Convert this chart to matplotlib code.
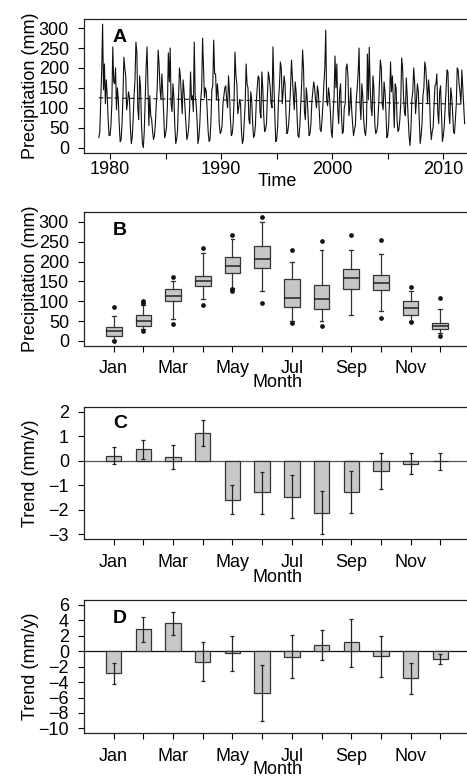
import numpy as np
import matplotlib
matplotlib.use('Agg')
from matplotlib import pyplot as plt

plt.rcParams['font.family'] = ['Liberation Sans', 'DejaVu Sans']
plt.rcParams['font.size'] = 13
plt.rcParams['axes.linewidth'] = 0.9
plt.rcParams['axes.edgecolor'] = '#222222'
plt.rcParams['xtick.major.size'] = 4.3
plt.rcParams['ytick.major.size'] = 4.3
plt.rcParams['xtick.major.width'] = 0.8
plt.rcParams['ytick.major.width'] = 0.8
plt.rcParams['ytick.major.pad'] = 6.5

# ---- panel A: monthly precipitation (mm), one row per year Jan..Dec
years = list(range(1979, 2012))
precip_rows = [
    [25, 40, 120, 190, 310, 145, 210, 110, 170, 130, 70, 30],    # 1979
    [30, 55, 110, 253, 165, 160, 200, 95, 150, 120, 55, 15],     # 1980
    [20, 60, 130, 227, 200, 180, 95, 115, 140, 125, 50, 10],     # 1981
    [25, 70, 130, 170, 265, 240, 100, 70, 180, 150, 60, 10],     # 1982
    [0, 40, 125, 200, 253, 150, 55, 130, 80, 70, 40, 20],        # 1983
    [30, 60, 110, 150, 245, 210, 150, 120, 185, 140, 80, 25],    # 1984
    [35, 50, 105, 238, 165, 250, 110, 90, 160, 125, 55, 10],     # 1985
    [20, 45, 120, 200, 180, 130, 85, 170, 140, 100, 60, 20],     # 1986
    [30, 50, 100, 190, 120, 130, 90, 265, 130, 110, 70, 10],     # 1987
    [25, 60, 120, 150, 275, 200, 125, 150, 140, 90, 40, 15],     # 1988
    [20, 65, 145, 155, 270, 185, 185, 120, 160, 130, 60, 35],    # 1989
    [40, 55, 110, 130, 150, 155, 120, 100, 180, 140, 75, 30],    # 1990
    [35, 60, 120, 240, 180, 160, 85, 100, 120, 110, 40, 10],     # 1991
    [20, 65, 110, 210, 160, 150, 70, 60, 140, 120, 65, 25],      # 1992
    [30, 55, 115, 150, 180, 175, 90, 75, 190, 150, 80, 40],      # 1993
    [45, 60, 130, 190, 175, 150, 110, 100, 253, 160, 80, 15],    # 1994
    [20, 50, 120, 155, 215, 200, 110, 140, 180, 160, 90, 35],    # 1995
    [40, 60, 100, 150, 220, 175, 130, 95, 165, 140, 80, 30],     # 1996
    [25, 55, 105, 160, 245, 200, 90, 70, 150, 125, 75, 30],      # 1997
    [35, 60, 115, 140, 165, 150, 120, 100, 155, 140, 95, 45],    # 1998
    [40, 70, 110, 160, 200, 295, 120, 105, 150, 130, 90, 40],    # 1999
    [25, 85, 130, 230, 150, 210, 95, 60, 140, 160, 80, 35],      # 2000
    [40, 100, 110, 200, 210, 180, 80, 100, 150, 95, 60, 30],     # 2001
    [45, 55, 120, 150, 190, 250, 110, 70, 160, 130, 70, 40],     # 2002
    [30, 60, 235, 120, 252, 150, 100, 80, 180, 150, 60, 35],     # 2003
    [40, 55, 100, 160, 220, 200, 110, 95, 165, 140, 90, 25],     # 2004
    [30, 60, 125, 215, 140, 180, 120, 50, 160, 150, 70, 40],     # 2005
    [45, 70, 110, 225, 200, 130, 90, 80, 175, 130, 75, 30],      # 2006
    [5, 45, 120, 140, 200, 165, 85, 120, 160, 140, 70, 10],      # 2007
    [30, 60, 130, 150, 215, 200, 160, 110, 170, 140, 55, 20],    # 2008
    [40, 50, 110, 155, 160, 185, 90, 60, 140, 155, 85, 15],      # 2009
    [30, 55, 100, 150, 195, 190, 85, 60, 150, 130, 90, 40],      # 2010
    [35, 70, 110, 200, 195, 160, 140, 110, 195, 150, 100, 60],   # 2011
]
trend_line = [125, 109]   # fitted mean at first and last month

# ---- panel B: monthly box plot statistics (mm)
months = ['Jan', 'Feb', 'Mar', 'Apr', 'May', 'Jun',
          'Jul', 'Aug', 'Sep', 'Oct', 'Nov', 'Dec']
box_q1 = [13, 38, 100, 138, 171, 183, 85, 80, 130, 128, 65, 30]
box_med = [26, 50, 114, 151, 190, 207, 107, 106, 158, 145, 83, 38]
box_q3 = [34, 66, 131, 163, 212, 240, 157, 142, 180, 165, 100, 46]
box_lo = [3, 30, 56, 106, 134, 126, 50, 49, 65, 75, 51, 19]
box_hi = [63, 91, 152, 222, 256, 300, 199, 229, 229, 220, 127, 81]
box_out = [[86, 0], [101, 96, 25], [161, 42], [235, 91], [266, 130, 125],
           [312, 95], [229, 44], [251, 38], [268], [254, 59], [135, 48],
           [108, 13]]

# ---- panel C: trend of monthly means (mm/y) with interval bounds
trend_c = [0.21, 0.47, 0.17, 1.11, -1.58, -1.28, -1.46, -2.11, -1.26, -0.43, -0.13, -0.03]
c_hi = [0.55, 0.86, 0.65, 1.66, -0.99, -0.44, -0.60, -1.25, -0.40, 0.32, 0.31, 0.32]
c_lo = [-0.13, 0.09, -0.32, 0.59, -2.16, -2.15, -2.32, -3.00, -2.11, -1.15, -0.55, -0.39]

# ---- panel D: second trend series (mm/y)
trend_d = [-2.84, 2.84, 3.62, -1.38, -0.22, -5.43, -0.73, 0.82, 1.16, -0.65, -3.49, -0.99]
d_hi = [-1.47, 4.48, 5.13, 1.16, 2.03, -1.81, 2.11, 2.76, 4.22, 2.03, -1.47, -0.30]
d_lo = [-4.27, 1.20, 2.11, -3.84, -2.50, -9.05, -3.49, -1.12, -2.03, -3.36, -5.52, -1.68]

W, H = 467, 776
fig = plt.figure(figsize=(W / 100, H / 100), dpi=100)


def add_panel(top, bottom):
    left, right = 84, 470
    return fig.add_axes([left / W, 1 - bottom / H, (right - left) / W, (bottom - top) / H])


def letter(ax, s, y):
    ax.text(0.093, y, s, transform=ax.transAxes, fontsize=14, fontweight='bold',
            ha='center', va='center')


def month_axis(ax, label_y):
    pos = np.arange(1, 13)
    ax.set_xlim(0, 13)
    ax.set_xticks(pos)
    ax.set_xticklabels([m if i % 2 == 0 else '' for i, m in enumerate(months)])
    ax.tick_params(axis='x', pad=6)
    ax.set_xlabel('Month')
    ax.xaxis.set_label_coords(0.5, label_y)


# A
axA = add_panel(19, 152.7)
series = np.array(precip_rows, dtype=float).ravel()
t = np.array([y + m / 12 for y in years for m in range(12)])
axA.plot(t, series, color='#111111', lw=0.8)
axA.plot([t[0], t[-1]], trend_line, color='#111111', lw=0.8, ls=(0, (4, 3)))
axA.set_xlim(1977.66, 2012.4)
axA.set_ylim(-13, 323)
axA.set_yticks(range(0, 301, 50))
axA.set_xticks(range(1980, 2011, 5))
axA.set_xticklabels(['1980', '', '1990', '', '2000', '', '2010'])
axA.tick_params(axis='x', pad=1.5)
axA.set_xlabel('Time')
axA.xaxis.set_label_coords(0.5, -0.152)
axA.set_ylabel('Precipitation (mm)')
axA.yaxis.set_label_coords(-0.117, 0.5)
letter(axA, 'A', 0.865)

# B
axB = add_panel(212.3, 345.7)
stats = []
for i in range(12):
    stats.append(dict(q1=box_q1[i], med=box_med[i], q3=box_q3[i],
                      whislo=box_lo[i], whishi=box_hi[i], fliers=box_out[i]))
axB.bxp(stats, positions=np.arange(1, 13), widths=0.53, patch_artist=True,
        capwidths=0.13,
        boxprops=dict(facecolor='#c6c6c6', edgecolor='#333333', linewidth=0.9),
        medianprops=dict(color='#222222', linewidth=1.1),
        whiskerprops=dict(color='#333333', linewidth=0.9),
        capprops=dict(color='#333333', linewidth=0.9),
        flierprops=dict(marker='o', markersize=2.4, markerfacecolor='#111111',
                        markeredgecolor='#111111'))
axB.set_ylim(-12, 324)
axB.set_yticks(range(0, 301, 50))
month_axis(axB, -0.212)
axB.set_ylabel('Precipitation (mm)')
axB.yaxis.set_label_coords(-0.117, 0.5)
letter(axB, 'B', 0.867)


def trend_panel(ax, vals, lo, hi, zero_color):
    pos = np.arange(1, 13)
    vals = np.array(vals)
    ax.axhline(0, color=zero_color, lw=0.9, zorder=1)
    ax.bar(pos, vals, width=0.52, color='#c8c8c8', edgecolor='#333333', lw=0.9, zorder=2)
    yerr = [vals - np.array(lo), np.array(hi) - vals]
    ax.errorbar(pos, vals, yerr=yerr, fmt='none', ecolor='#222222', elinewidth=0.9,
                capsize=1.6, capthick=0.9, zorder=3)
    ax.set_ylabel('Trend (mm/y)')
    ax.yaxis.set_label_coords(-0.117, 0.5)


# C
axC = add_panel(406.7, 539.3)
trend_panel(axC, trend_c, c_lo, c_hi, '#555555')
axC.set_ylim(-3.2, 2.2)
axC.set_yticks([2, 1, 0, -1, -2, -3])
month_axis(axC, -0.224)
letter(axC, 'C', 0.87)

# D
axD = add_panel(600, 733.3)
trend_panel(axD, trend_d, d_lo, d_hi, '#111111')
axD.set_ylim(-10.64, 6.64)
axD.set_yticks(range(6, -11, -2))
month_axis(axD, -0.208)
letter(axD, 'D', 0.861)

fig.savefig('out.png', dpi=100)
